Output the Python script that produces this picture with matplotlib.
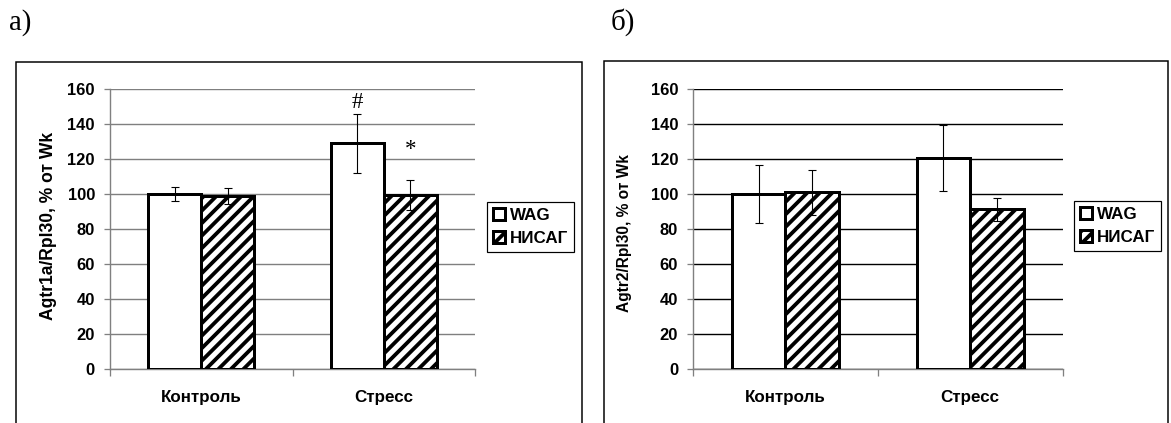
import numpy as np
import matplotlib
matplotlib.use("Agg")
import matplotlib.pyplot as plt
from matplotlib.patches import Rectangle

# data
groups = ["Контроль", "Стресс"]
series = ["WAG", "НИСАГ"]
yticks = [0, 20, 40, 60, 80, 100, 120, 140, 160]

a_wag = [100, 129]
a_wag_err = [4.2, 17]
a_nisag = [99, 99.5]
a_nisag_err = [4.5, 8.7]

b_wag = [100, 120.5]
b_wag_err = [16.3, 18.8]
b_nisag = [101, 91.3]
b_nisag_err = [13, 6.5]

W, H, DPI = 1171, 423, 75


def pt(px):
    return px * 72 / DPI


def fx(px):
    return px / W


def fy(py):
    return 1 - py / H


plt.rcParams['font.family'] = ['Liberation Sans', 'DejaVu Sans']
plt.rcParams['font.weight'] = 'bold'
plt.rcParams['hatch.linewidth'] = pt(3.8)
plt.rcParams['hatch.color'] = 'black'

fig = plt.figure(figsize=(W / DPI, H / DPI), dpi=DPI)

# outer frames of the two panels
fig.add_artist(Rectangle((fx(15.7), fy(430)), fx(581.7) - fx(15.7), fy(62) - fy(430),
                         transform=fig.transFigure, fill=False, ec='black', lw=pt(1.5)))
fig.add_artist(Rectangle((fx(604), fy(430)), fx(1168) - fx(604), fy(60.5) - fy(430),
                         transform=fig.transFigure, fill=False, ec='black', lw=pt(1.5)))

fig.text(fx(9), fy(30), "а)", family='Liberation Serif', weight='normal', size=pt(29), va='baseline')
fig.text(fx(611), fy(30), "б)", family='Liberation Serif', weight='normal', size=pt(29), va='baseline')


def panel(x0, x1, wag, wag_err, nisag, nisag_err, ylabel, lab_size, lab_x, lab_y, grid_col, leg_xy):
    ax = fig.add_axes([fx(x0), fy(369), fx(x1) - fx(x0), fy(89) - fy(369)])
    x = np.arange(len(groups))
    w = 0.29
    b1 = ax.bar(x - w / 2, wag, w, color='white', edgecolor='black', linewidth=pt(3), zorder=3, label=series[0])
    b2 = ax.bar(x + w / 2, nisag, w, color='white', edgecolor='black', linewidth=pt(3), hatch='//',
                zorder=3, label=series[1])
    ax.errorbar(x - w / 2, wag, yerr=wag_err, fmt='none', ecolor='black', elinewidth=pt(1.1),
                capsize=pt(4.2), capthick=pt(1.1), zorder=4)
    ax.errorbar(x + w / 2, nisag, yerr=nisag_err, fmt='none', ecolor='black', elinewidth=pt(1.1),
                capsize=pt(4.2), capthick=pt(1.1), zorder=4)

    ax.set_xlim(-0.5, 1.5)
    ax.set_ylim(0, 160)
    ax.set_yticks(yticks)
    ax.set_yticklabels([str(v) for v in yticks], size=pt(16.5), weight='bold')
    ax.set_xticks(x)
    ax.set_xticklabels(groups, size=pt(17), weight='bold')
    ax.set_xticks([-0.5, 0.5, 1.5], minor=True)
    ax.tick_params(axis='x', which='major', length=0, pad=pt(21))
    ax.tick_params(axis='x', which='minor', length=pt(7), color='#808080', width=pt(1.3))
    ax.tick_params(axis='y', length=pt(6), color='#808080', width=pt(1.3), pad=pt(9))
    ax.yaxis.grid(True, color=grid_col, linewidth=pt(1.4), zorder=0)
    ax.set_axisbelow(True)
    for s in ['top', 'right']:
        ax.spines[s].set_visible(False)
    for s in ['left', 'bottom']:
        ax.spines[s].set_color('#808080')
        ax.spines[s].set_linewidth(pt(1.4))

    ax.set_ylabel(ylabel, size=pt(lab_size), weight='bold')
    ax.yaxis.set_label_coords(lab_x, lab_y)

    leg = ax.legend(handles=[b1, b2], labels=series, loc='upper left',
                    bbox_to_anchor=(fx(leg_xy[0]), fy(leg_xy[1])), bbox_transform=fig.transFigure,
                    borderaxespad=0, fancybox=False, edgecolor='black', framealpha=1,
                    prop={'weight': 'bold', 'size': pt(17)}, handlelength=0.7, handleheight=0.7,
                    handletextpad=0.3, borderpad=0.35, labelspacing=0.45)
    leg.get_frame().set_linewidth(pt(1.2))
    return ax


ax1 = panel(110, 475, a_wag, a_wag_err, a_nisag, a_nisag_err, "Agtr1a/Rpl30, % от Wk",
            17.5, -0.145, 0.5125, '#7f7f7f', (487, 202))
ax1.text(1 - 0.145, 152.5, "#", ha='center', va='center', family='Liberation Serif',
         weight='normal', size=pt(23))
ax1.text(1 + 0.145, 125.5, "*", ha='center', va='center', family='Liberation Serif',
         weight='normal', size=pt(23))

ax2 = panel(693, 1062.5, b_wag, b_wag_err, b_nisag, b_nisag_err, "Agtr2/Rpl30, % от Wk",
            15.5, -0.165, 0.486, '#000000', (1074, 201))

fig.savefig("out.png", dpi=DPI)
